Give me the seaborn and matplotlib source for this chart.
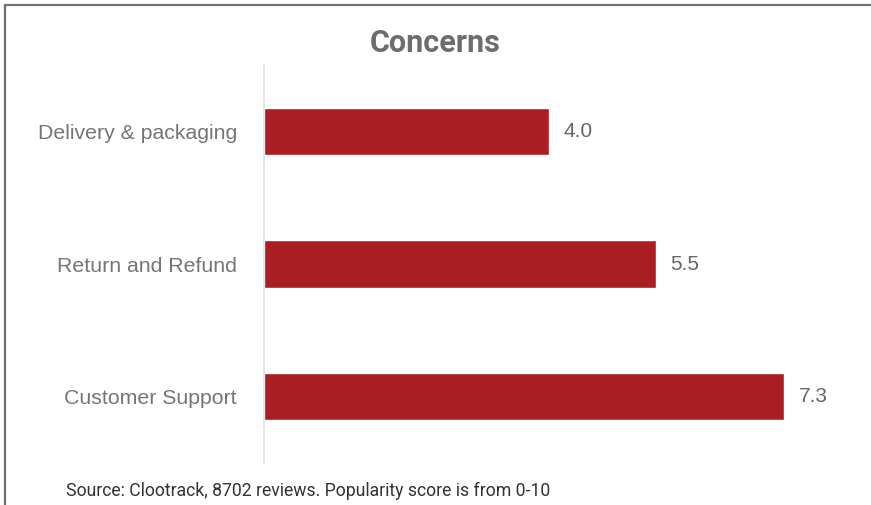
import matplotlib
matplotlib.use("Agg")
import matplotlib.pyplot as plt
from matplotlib.lines import Line2D
import seaborn as sns
import pandas as pd

# Data
categories = ["Delivery & packaging", "Return and Refund", "Customer Support"]
scores = [4.0, 5.5, 7.3]
title = "Concerns"
source_note = "Source: Clootrack, 8702 reviews. Popularity score is from 0-10"

df = pd.DataFrame({"concern": categories, "score": scores})

sns.set_theme(style="white")
plt.rcParams["font.family"] = ["Liberation Sans", "DejaVu Sans"]

W, H, DPI = 871, 505, 100
fig = plt.figure(figsize=(W / DPI, H / DPI), dpi=DPI)
fig.patch.set_facecolor("white")

# Axes placement in pixels
ax_left, ax_right = 264, 863
ax_top, ax_bottom = 65, 463
ax = fig.add_axes([ax_left / W, 1 - ax_bottom / H,
                   (ax_right - ax_left) / W, (ax_bottom - ax_top) / H])

sns.barplot(data=df, y="concern", x="score", orient="h", color="#A91D23",
            width=0.355, saturation=1, ax=ax, errorbar=None)

ax.set_xlim(0, (ax_right - ax_left) / 71.3)
ax.set_xlabel("")
ax.set_ylabel("")
ax.set_xticks([])

for side in ["top", "right", "bottom"]:
    ax.spines[side].set_visible(False)
ax.spines["left"].set_color("#e4e4e4")
ax.spines["left"].set_linewidth(1.3)

ax.tick_params(axis="y", length=0, pad=19.5, labelsize=15.3, labelcolor="#757575")

for container in ax.containers:
    ax.bar_label(container, fmt="%.1f", padding=10, fontsize=15, color="#666666")

# Title
fig.text(435 / W, 1 - 43 / H, title, ha="center", va="center",
         fontsize=22, fontweight="bold", color="#6d6d6d", family=["Roboto", "DejaVu Sans"])

# Footnote
fig.text(66 / W, 1 - 491 / H, source_note, ha="left", va="center",
         fontsize=12.7, color="#333333", family=["Roboto", "DejaVu Sans"])

# Frame lines along the top and left edges
fig.add_artist(Line2D([5 / W, 1], [1 - 5 / H, 1 - 5 / H], transform=fig.transFigure,
                      color="#6f6f6f", linewidth=1.6))
fig.add_artist(Line2D([5 / W, 5 / W], [0, 1 - 5 / H], transform=fig.transFigure,
                      color="#6f6f6f", linewidth=1.6))

fig.savefig("out.png", dpi=DPI, facecolor="white")
